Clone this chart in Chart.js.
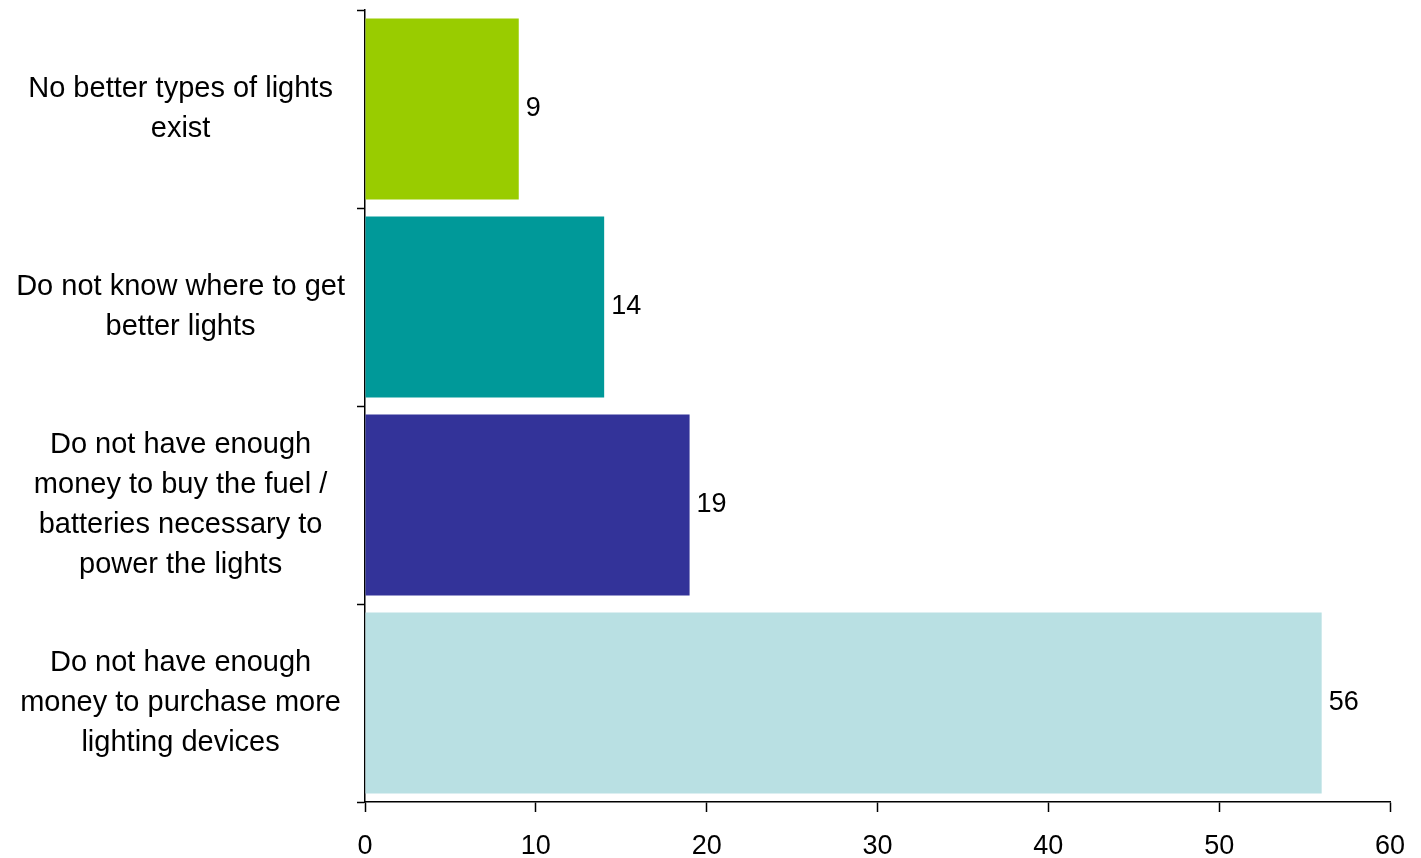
<!DOCTYPE html>
<html>
<head>
<meta charset="utf-8">
<script src="https://cdn.jsdelivr.net/npm/chart.js@4"></script>
<style>
  html, body { margin: 0; padding: 0; background: #fff; }
  #wrap { width: 1421px; height: 858px; }
</style>
</head>
<body>
<div id="wrap"><canvas id="reasons_chart" width="1421" height="858"></canvas></div>
<script>
var categories = [
  ['No better types of lights', 'exist'],
  ['Do not know where to get', 'better lights'],
  ['Do not have enough', 'money to buy the fuel /', 'batteries necessary to', 'power the lights'],
  ['Do not have enough', 'money to purchase more', 'lighting devices']
];
var values = [9, 14, 19, 56];
var barColors = ['#99cc00', '#009999', '#333399', '#b9e0e3'];
var xTicks = [0, 10, 20, 30, 40, 50, 60];

var fontFamily = '"Liberation Sans", Arial, sans-serif';

// draw the value next to the end of each bar
var valueLabels = {
  id: 'valueLabels',
  afterDatasetsDraw: function(chart) {
    var ctx = chart.ctx;
    var meta = chart.getDatasetMeta(0);
    ctx.save();
    ctx.font = '27px ' + fontFamily;
    ctx.fillStyle = '#000';
    ctx.textAlign = 'left';
    ctx.textBaseline = 'middle';
    meta.data.forEach(function(bar, i) {
      ctx.fillText(values[i], bar.x + 7, bar.y);
    });
    ctx.restore();
  }
};

var ctx = document.getElementById('reasons_chart').getContext('2d');
var chart = new Chart(ctx, {
  type: 'bar',
  data: {
    labels: categories,
    datasets: [{
      data: values,
      backgroundColor: barColors,
      borderWidth: 0,
      barPercentage: 0.914,
      categoryPercentage: 1
    }]
  },
  options: {
    indexAxis: 'y',
    responsive: false,
    animation: false,
    layout: { padding: { top: 10, right: 31, left: 0, bottom: 0 } },
    plugins: {
      legend: { display: false },
      tooltip: { enabled: false }
    },
    scales: {
      x: {
        type: 'linear',
        min: 0,
        max: 60,
        afterBuildTicks: function(scale) {
          scale.ticks = xTicks.map(function(v) { return { value: v }; });
        },
        afterFit: function(scale) {
          scale.height = 56;
          scale.paddingLeft = 0;
          scale.paddingRight = 0;
        },
        grid: {
          drawOnChartArea: false,
          drawTicks: true,
          tickLength: 10,
          tickColor: '#000',
          tickWidth: 1.5
        },
        border: { display: true, color: '#000', width: 1.5 },
        ticks: {
          color: '#000',
          padding: 18,
          maxRotation: 0,
          font: { family: fontFamily, size: 27 }
        }
      },
      y: {
        afterFit: function(scale) {
          scale.width = 365;
          scale.paddingTop = 0;
          scale.paddingBottom = 0;
        },
        grid: {
          offset: true,
          drawOnChartArea: false,
          drawTicks: true,
          tickLength: 8,
          tickColor: '#000',
          tickWidth: 1.5
        },
        border: { display: true, color: '#000', width: 1.5 },
        ticks: {
          color: '#000',
          padding: 12,
          crossAlign: 'center',
          font: { family: fontFamily, size: 29, lineHeight: 1.38 }
        }
      }
    }
  },
  plugins: [valueLabels]
});
</script>
</body>
</html>
